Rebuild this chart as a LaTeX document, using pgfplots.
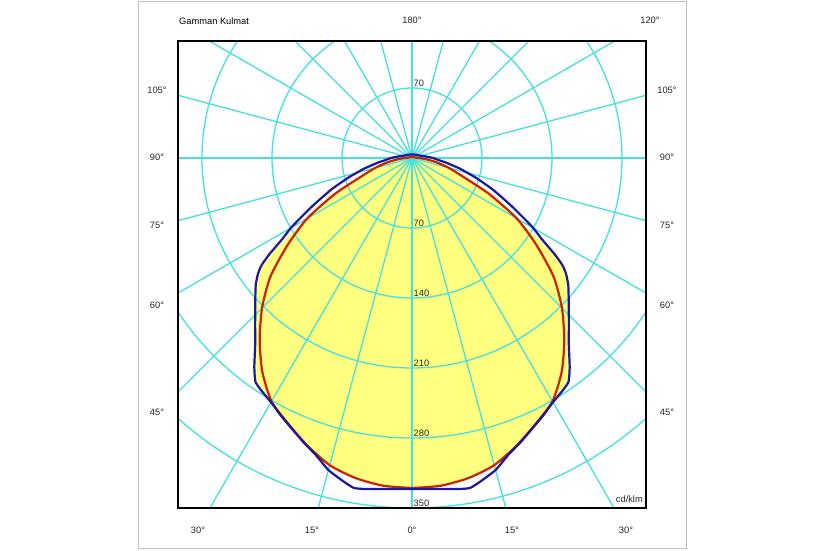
\documentclass[border=0pt]{standalone}
\usepackage{pgfplots}
\pgfplotsset{compat=1.18}
\usepackage{fontspec}
\setmainfont{Liberation Sans}

\definecolor{gridc}{RGB}{70,224,224}
\definecolor{fillc}{RGB}{255,255,128}
\definecolor{redc}{RGB}{204,34,0}
\definecolor{bluec}{RGB}{24,24,160}
\definecolor{txt}{RGB}{40,40,40}

\begin{document}
\begin{tikzpicture}[x=1pt,y=1pt,font=\fontsize{9.3}{11}\selectfont]
% page and outer frame
\fill[white] (0,0) rectangle (825,550);
\draw[black!25, line width=0.8pt] (138,1.5) rectangle (686,549);

\begin{axis}[
  at={(178pt,42pt)}, anchor=south west,
  x=1pt, y=1pt,
  xmin=-234, xmax=234, ymin=-350, ymax=117,
  xtick=\empty, ytick=\empty,
  axis line style={black, line width=1.4pt},
  axis on top,
  clip=true,
]
% filled area (cd/klm against angle, polar)
\addplot[fill=fillc, draw=none, data cs=polar, smooth, tension=0.4] coordinates {
(-90,330) (-85,329) (-80,325) (-75,318) (-70,306) (-65,293) (-60,282)
(-57,277) (-55,273) (-53,262) (-50,244) (-47,230) (-44,218) (-41,207.5)
(-39,201) (-37,193) (-35.5,185) (-34,172) (-32.5,148) (-30,121) (-25,85)
(-20,54) (-15,38) (-10,25) (-5,14) (0,7) (10,3) (30,2) (60,1) (90,1)
(120,1) (150,2) (170,3) (180,7) (185,14) (190,25) (195,38) (200,54)
(205,85) (210,121) (212.5,148) (214,172) (215.5,185) (217,193) (219,201)
(221,207.5) (224,218) (227,230) (230,244) (233,262) (235,273) (237,277)
(240,282) (245,293) (250,306) (255,318) (260,325) (265,329) (270,330)
};

% grid
\pgfplotsinvokeforeach{70,140,210,280,350}{
  \draw[gridc, line width=1.3pt] (axis cs:0,0) circle[radius=#1];
}
\pgfplotsinvokeforeach{0,15,...,345}{
  \draw[gridc, line width=1.3pt] (axis cs:0,0) -- ++(#1:700pt);
}

% C0 plane
\addplot[redc, line width=2.2pt, data cs=polar, smooth, tension=0.4] coordinates {
(-90,330) (-85,329) (-80,325) (-75,318) (-70,306) (-65,293) (-60,281)
(-55,261) (-50,237) (-45,212) (-40,185) (-35,152) (-30,121) (-25,85)
(-20,54) (-15,38) (-10,25) (-5,14) (0,7) (10,3) (30,2) (60,1) (90,1)
(120,1) (150,2) (170,3) (180,7) (185,14) (190,25) (195,38) (200,54)
(205,85) (210,121) (215,152) (220,185) (225,212) (230,237) (235,261)
(240,281) (245,293) (250,306) (255,318) (260,325) (265,329) (270,330)
};

% C90 plane
\addplot[bluec, line width=2.2pt, data cs=polar, smooth, tension=0.3] coordinates {
(-90,331) (-86,331.8) (-82,334.3) (-80,335) (-78,330.5) (-75,323) (-72,312)
(-69,304) (-66,296) (-63,289) (-60,282) (-57,277) (-55,273) (-53,262)
(-50,244) (-47,230) (-44,218) (-41,207.5) (-39,201) (-37,193) (-35.5,185)
(-34,172) (-32,153) (-30,140) (-28,125) (-26,112) (-24,100) (-21,85)
(-17,66) (-12.5,49) (-8,35) (-4,26) (0,21) (5,15) (15,9) (30,6) (60,4)
(90,3.5) (120,4) (150,6) (165,9) (175,15) (180,21) (184,26) (188,35)
(192.5,49) (197,66) (201,85) (204,100) (206,112) (208,125) (210,140)
(212,153) (214,172) (215.5,185) (217,193) (219,201) (221,207.5) (224,218)
(227,230) (230,244) (233,262) (235,273) (237,277) (240,282) (243,289)
(246,296) (249,304) (252,312) (255,323) (258,330.5) (260,335) (262,334.3)
(266,331.8) (270,331)
};

% radius labels
\begin{scope}[every node/.style={anchor=south west, inner sep=0pt, text=txt}]
\node at (axis cs:1.5,71.5) {70};
\node at (axis cs:1.5,-68.8) {70};
\node at (axis cs:1.5,-138.8) {140};
\node at (axis cs:1.5,-208.8) {210};
\node at (axis cs:1.5,-278.8) {280};
\node at (axis cs:1.5,-348.6) {350};
\end{scope}
\node[anchor=south east, inner sep=0pt, text=txt] at (axis cs:231,-345) {cd/klm};
\end{axis}

% angle labels around the frame
\begin{scope}[every node/.style={inner sep=0pt, text=txt}]
\node[anchor=west, text=black] at (179,529.3) {Gamman Kulmat};
\node at (412,529.3) {180°};
\node at (650,529.3) {120°};
\foreach \lab/\yy in {105°/460, 90°/392.3, 75°/325, 60°/245, 45°/137.7}{
  \node at (157,\yy) {\lab};
  \node at (667,\yy) {\lab};
}
\foreach \lab/\xx in {30°/198, 15°/312, 0°/412, 15°/512, 30°/626}{
  \node at (\xx,20) {\lab};
}
\end{scope}
\end{tikzpicture}
\end{document}
